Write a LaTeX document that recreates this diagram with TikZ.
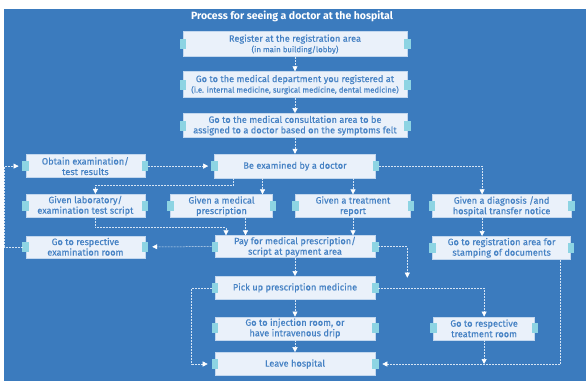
\documentclass[tikz,border=0pt]{standalone}
\usepackage{fontspec}
\setmainfont{Fira Sans}
\newfontfamily\boxfont{Fira Sans}[FakeBold=0.4]
\usetikzlibrary{positioning,arrows.meta,calc}
\definecolor{cbg}{HTML}{3B7BBE}
\definecolor{cbox}{HTML}{EAF1FA}
\definecolor{cedge}{HTML}{C2D7EE}
\definecolor{ctxt}{HTML}{4682C4}
\definecolor{ctab}{HTML}{8DD4E3}
\definecolor{cline}{HTML}{D5E4F4}
\newcommand{\subtxt}[1]{{\fontsize{7.8}{8}\selectfont #1}}
\tikzset{
 stp/.style={rectangle, draw=cedge, line width=0.6pt, fill=cbox, text=ctxt,
 align=center, inner sep=1pt, minimum height=23pt,
 font=\boxfont\fontsize{9.2}{10.5}\selectfont},
 hd/.style={text=white, font=\fontsize{10.5}{12}\selectfont\bfseries},
 fl/.style={-{Triangle[length=5pt,width=5pt,color=white]}, draw=cline,
 line width=0.5pt, dash pattern=on 2pt off 1pt},
 fls/.style={fl, shorten <=3pt, shorten >=7pt},
}

\begin{document}
\begin{tikzpicture}[x=1pt, y=-1pt]
 \useasboundingbox (0,0) rectangle (586,381);
 \fill[cbg] (4,9) rectangle (586,381);
 \node[hd] (title) at (292,16) {Process for seeing a doctor at the hospital};

 % main column
 \node[stp, minimum width=224pt, minimum height=25pt] (reg) at (295,44.2)
 {Register at the registration area\\\subtxt{(in main building/lobby)}};
 \node[stp, minimum width=224pt, minimum height=26pt, below=14.3pt of reg] (dept)
 {Go to the medical department you registered at\\\subtxt{(i.e. internal medicine, surgical medicine, dental medicine)}};
 \node[stp, minimum width=224pt, minimum height=24pt, below=15.3pt of dept] (consult)
 {Go to the medical consultation area to be\\assigned to a doctor based on the symptoms felt};
 \node[stp, minimum width=161pt, minimum height=24pt, below=16pt of consult] (exam)
 {Be examined by a doctor};
 \node[stp, minimum width=102pt, below=16pt of exam, xshift=-73.5pt] (presc)
 {Given a medical\\prescription};
 \node[stp, minimum width=115pt, below=16pt of exam, xshift=58pt] (treat)
 {Given a treatment\\report};
 \node[stp, minimum width=139pt, right=21pt of treat] (diag)
 {Given a diagnosis /and\\hospital transfer notice};
 \node[stp, minimum width=138pt, below=18pt of diag] (stamp)
 {Go to registration area for\\stamping of documents};
 \node[stp, minimum width=160pt, minimum height=22pt, below=57pt of exam] (pay)
 {Pay for medical prescription/\\script at payment area};
 \node[stp, minimum width=160pt, below=18pt of pay] (pickup)
 {Pick up prescription medicine};
 \node[stp, minimum width=160pt, below=17pt of pickup] (inject)
 {Go to injection room, or\\have intravenous drip};
 \node[stp, minimum width=160pt, below=12pt of inject] (leave)
 {Leave hospital};
 \node[stp, minimum width=101pt, right=58pt of inject] (troom)
 {Go to respective\\treatment room};

 % left column
 \node[stp, minimum width=119pt, left=69pt of exam] (obtain)
 {Obtain examination/\\test results};
 \node[stp, minimum width=119pt, below=16pt of obtain] (lab)
 {Given laboratory/\\examination test script};
 \node[stp, minimum width=119pt, minimum height=22pt, below=18pt of lab] (examroom)
 {Go to respective\\examination room};

 % side tabs
 \foreach \n in {reg,dept,consult,exam,presc,treat,diag,stamp,pay,pickup,inject,leave,troom,obtain,lab,examroom}{
 \fill[ctab] ($(\n.west)+(-3.2,-5)$) rectangle ++(6.5,10);
 \fill[ctab] ($(\n.east)+(-3.3,-5)$) rectangle ++(6.5,10);
 }

 \coordinate (payend) at ($(pay.east)+(32,31)$);

 \draw[fl] (reg) -- (dept);
 \draw[fl] (dept) -- (consult);
 \draw[fl] (consult) -- (exam);
 \draw[fls, shorten >=6pt] (obtain.east) -- (exam.west);
 \draw[fl] ([xshift=-61.5pt]exam.south) -- ++(0,7) -| ([xshift=10pt]lab.north);
 \draw[fl] ([xshift=-32.5pt]exam.south) -- ([xshift=-32.5pt]exam.south |- presc.north);
 \draw[fl] (exam.south -| treat.north) -- (treat.north);
 \draw[fl, shorten <=3pt] (exam.east) -| ([xshift=-19.5pt]diag.north);
 \draw[fl] ([xshift=10pt]lab.south) -- ++(0,10) -| ([xshift=-69pt]pay.north);
 \draw[fl] ([xshift=24pt]presc.south) -- ([xshift=24pt]presc.south |- pay.north);
 \draw[fl] (treat.south) -- (treat.south |- pay.north);
 \draw[fls] (pay.west) -- (examroom.east);
 \draw[fls] (examroom.west) -- ++(-21,0) |- (obtain.west);
 \draw[fl, shorten <=3pt] (pay.east) -| (payend);
 \draw[fl] ([xshift=-19.5pt]diag.south) -- ([xshift=-19.5pt]diag.south |- stamp.north);
 \draw[fl] (pickup.north |- pay.south) -- (pickup.north);
 \draw[fl, shorten <=3pt] (pickup.east) -| (troom.north);
 \draw[fls] (pickup.west) -- ++(-23,0) |- (leave.west);
 \draw[fl] (pickup) -- (inject);
 \draw[fl] (inject) -- (leave);
 \draw[fl] (troom.south) -- (troom.south |- leave.east);
 \draw[fl, shorten >=7pt] ([xshift=59pt]stamp.south) |- (leave.east);
\end{tikzpicture}
\end{document}
